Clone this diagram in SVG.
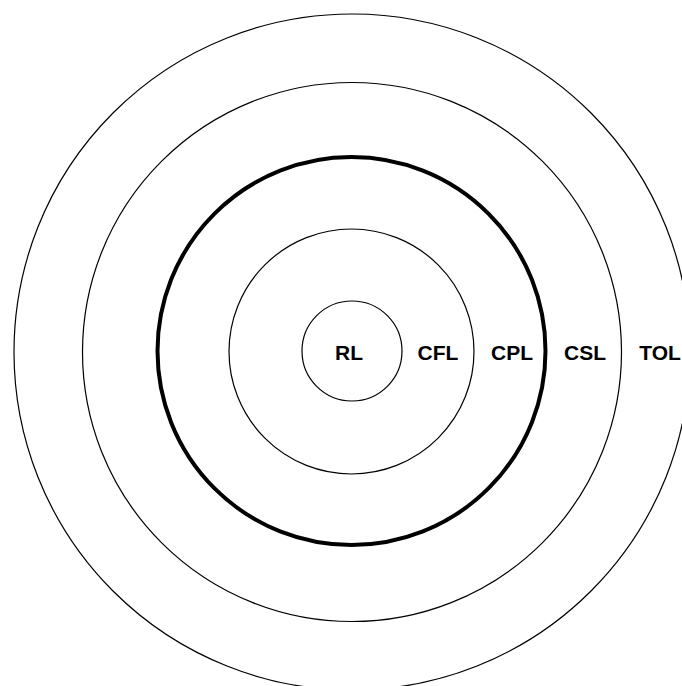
<svg xmlns="http://www.w3.org/2000/svg" width="682" height="686" viewBox="0 0 682 686">
<style>
.ring{fill:none;stroke:#000;stroke-width:1.2}
.thick{fill:none;stroke:#000;stroke-width:4}
.lbl{font-family:"Liberation Sans",Arial,sans-serif;font-weight:bold;font-size:21px;text-anchor:middle;fill:#000}
</style>
<rect width="682" height="686" fill="#fff"/>
<g id="TOL"><circle class="ring" cx="352" cy="352" r="338"/><text class="lbl" x="660" y="360">TOL</text></g>
<g id="CSL"><circle class="ring" cx="352" cy="352" r="269.5"/><text class="lbl" x="585" y="360">CSL</text></g>
<g id="CPL"><circle class="thick" cx="351.5" cy="351" r="194"/><text class="lbl" x="512" y="360">CPL</text></g>
<g id="CFL"><circle class="ring" cx="351.5" cy="351.5" r="122.5"/><text class="lbl" x="438" y="360">CFL</text></g>
<g id="RL"><circle class="ring" cx="352" cy="351" r="50"/><text class="lbl" x="349" y="360">RL</text></g>
</svg>
